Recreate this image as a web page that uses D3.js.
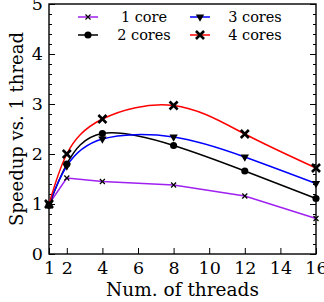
<!DOCTYPE html>
<html>
<head>
<meta charset="utf-8">
<script src="https://cdn.jsdelivr.net/npm/d3@7"></script>
<style>
  body { margin: 0; background: #fff; }
  text { font-family: "DejaVu Serif", serif; fill: #000; }
</style>
</head>
<body>
<div id="chart-area"></div>
<script>
// data
const threads = [1, 2, 4, 8, 12, 16]
const core1 = [1.0, 1.52, 1.45, 1.38, 1.16, 0.71]
const core2 = [0.97, 1.80, 2.41, 2.17, 1.66, 1.11]
const core3 = [1.0, 1.76, 2.30, 2.34, 1.94, 1.41]
const core4 = [1.0, 2.0, 2.70, 2.97, 2.40, 1.72]
const seriesNames = ["1 core", "2 cores", "3 cores", "4 cores"]
const xTicks = [1, 2, 4, 6, 8, 10, 12, 14, 16]
const yTicks = [0, 1, 2, 3, 4, 5]

const MARGIN = { LEFT: 49, RIGHT: 8, TOP: 4, BOTTOM: 48 }
const W = 324, H = 302

const svg = d3.select("#chart-area").append("svg")
  .attr("width", W)
  .attr("height", H)

const x = d3.scaleLinear().domain([1, 16]).range([MARGIN.LEFT, W - MARGIN.RIGHT])
const y = d3.scaleLinear().domain([0, 5]).range([H - MARGIN.BOTTOM, MARGIN.TOP])

// series styles
const series = [
  { name: seriesNames[0], values: core1, color: "#a020f0", symbol: d3.symbolX, size: 18, smooth: false, sw: 1.2, fill: "none" },
  { name: seriesNames[1], values: core2, color: "#000000", symbol: d3.symbolCircle, size: 40, smooth: true, sw: 0, fill: "#000" },
  { name: seriesNames[2], values: core3, color: "#0000ff", symbol: d3.symbolTriangle, size: 30, smooth: true, sw: 0, fill: "#000", rot: 180 },
  { name: seriesNames[3], values: core4, color: "#ff0000", symbol: d3.symbolX, size: 44, smooth: true, sw: 2.6, fill: "none" }
]

// minor y ticks
const minorY = d3.range(0, 5.001, 0.2).filter(v => Math.abs(v - Math.round(v)) > 1e-6)

// left axis
const yAxisCall = d3.axisLeft(y).tickValues(yTicks).tickSize(-6).tickPadding(6).tickFormat(d3.format("d"))
const gy = svg.append("g")
  .attr("transform", `translate(${MARGIN.LEFT},0)`)
  .call(yAxisCall)
gy.selectAll("text").attr("font-size", "17.5px").attr("font-family", "DejaVu Serif")
svg.append("g")
  .attr("transform", `translate(${MARGIN.LEFT},0)`)
  .call(d3.axisLeft(y).tickValues(minorY).tickSize(-3).tickFormat(""))

// right axis
svg.append("g")
  .attr("transform", `translate(${W - MARGIN.RIGHT},0)`)
  .call(d3.axisRight(y).tickValues(yTicks).tickSize(-6).tickFormat(""))
svg.append("g")
  .attr("transform", `translate(${W - MARGIN.RIGHT},0)`)
  .call(d3.axisRight(y).tickValues(minorY).tickSize(-3).tickFormat(""))

// bottom axis
const xAxisCall = d3.axisBottom(x).tickValues(xTicks).tickSize(-6).tickPadding(8).tickFormat(d3.format("d"))
const gx = svg.append("g")
  .attr("transform", `translate(0,${H - MARGIN.BOTTOM})`)
  .call(xAxisCall)
gx.selectAll("text").attr("font-size", "17.5px").attr("font-family", "DejaVu Serif")

svg.selectAll(".domain").remove()
svg.selectAll(".tick line").attr("stroke", "#000").attr("stroke-width", 1)

// frame
svg.append("rect")
  .attr("x", x(1))
  .attr("y", y(5))
  .attr("width", x(16) - x(1))
  .attr("height", y(0) - y(5))
  .attr("fill", "none")
  .attr("stroke", "#000")
  .attr("stroke-width", 1.4)

// axis labels
svg.append("text")
  .attr("x", (x(1) + x(16)) / 2)
  .attr("y", 296)
  .attr("text-anchor", "middle")
  .attr("font-size", "18.5px")
  .text("Num. of threads")

svg.append("text")
  .attr("transform", `translate(23,${(y(0) + y(5)) / 2}) rotate(-90)`)
  .attr("text-anchor", "middle")
  .attr("font-size", "18px")
  .text("Speedup vs. 1 thread")

// lines
const plot = svg.append("g")
series.forEach(s => {
  const line = d3.line()
    .x((d, i) => x(threads[i]))
    .y(d => y(d))
    .curve(s.smooth ? d3.curveNatural : d3.curveLinear)
  plot.append("path")
    .datum(s.values)
    .attr("d", line)
    .attr("fill", "none")
    .attr("stroke", s.color)
    .attr("stroke-width", 1.5)
})

function drawMarker(g, s, cx, cy) {
  g.append("path")
    .attr("d", d3.symbol().type(s.symbol).size(s.size)())
    .attr("transform", `translate(${cx},${cy})` + (s.rot ? ` rotate(${s.rot})` : ""))
    .attr("fill", s.fill)
    .attr("stroke", s.sw > 0 ? "#000" : "none")
    .attr("stroke-width", s.sw)
}

series.forEach(s => {
  s.values.forEach((v, i) => drawMarker(plot, s, x(threads[i]), y(v)))
})

// legend
const legendPos = [
  { hx: 78, tx: 144, ty: 17 },
  { hx: 78, tx: 144, ty: 35 },
  { hx: 190, tx: 255, ty: 17 },
  { hx: 190, tx: 255, ty: 35 }
]
const legend = svg.append("g")
series.forEach((s, i) => {
  const p = legendPos[i]
  legend.append("line")
    .attr("x1", p.hx).attr("x2", p.hx + 20)
    .attr("y1", p.ty).attr("y2", p.ty)
    .attr("stroke", s.color)
    .attr("stroke-width", 1.5)
  drawMarker(legend, s, p.hx + 10, p.ty)
  legend.append("text")
    .attr("x", p.tx)
    .attr("y", p.ty)
    .attr("dy", "0.35em")
    .attr("text-anchor", "middle")
    .attr("font-size", "14.5px")
    .text(s.name)
})
</script>
</body>
</html>
